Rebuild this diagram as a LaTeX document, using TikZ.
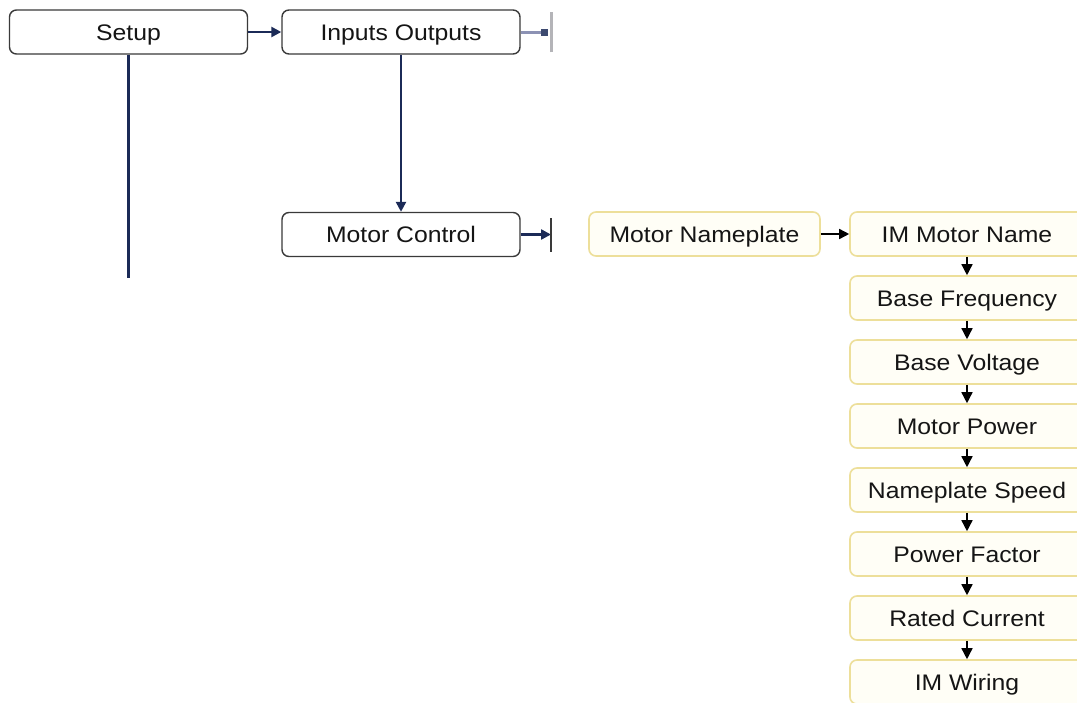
\documentclass[tikz,border=0pt]{standalone}
\usepackage{fontspec}
\setmainfont{Liberation Sans}[FakeStretch=1.1]
\usetikzlibrary{arrows.meta}
\definecolor{navy}{HTML}{1B2A57}
\definecolor{boxline}{HTML}{3A3A3A}
\definecolor{ylw}{HTML}{EDDF9A}
\definecolor{cream}{HTML}{FFFEF6}
\definecolor{txt}{HTML}{151515}
\definecolor{fadeline}{HTML}{8C92B4}
\definecolor{fadebar}{HTML}{B4B4B8}
\tikzset{
  lbl/.style={inner sep=0pt, text=txt, text height=16pt, text depth=0pt,
    font=\fontsize{22.5}{24}\selectfont},
  graybox/.style={lbl, draw=boxline, line width=1.4pt, rounded corners=7pt, fill=white,
    minimum width=238pt, minimum height=44pt},
  ylwbox/.style={lbl, draw=ylw, line width=1.6pt, rounded corners=7pt, fill=cream,
    minimum height=44pt},
  colbox/.style={ylwbox, minimum width=234pt},
  navyarrow/.style={draw=navy, line width=2.4pt, -{Triangle[length=10pt,width=10pt]}},
  navyline/.style={draw=navy, line width=2.6pt},
  colarrow/.style={draw=black, line width=1.5pt, -{Triangle[length=11pt,width=11pt]}},
  bararrow/.style={draw=black, line width=1.6pt, -{Triangle[length=10pt,width=10pt]}},
  barline/.style={draw=boxline, line width=1.4pt},
}
\begin{document}
\begin{tikzpicture}[x=1pt,y=-1pt]
\useasboundingbox (0,0) rectangle (1077,702);
\clip (0,0) rectangle (1077,702);
\fill[white] (0,0) rectangle (1077,702);
% left column boxes
\node[graybox] (setup) at (128.5,32) {Setup};
\node[graybox] (io) at (401,32) {Inputs Outputs};
\node[graybox] (mc) at (401,234.5) {Motor Control};
% yellow boxes
\node[ylwbox, minimum width=231pt] (mnp) at (704.5,234) {Motor Nameplate};
\node[colbox] (c1) at (967,234) {IM Motor Name};
\node[colbox] (c2) at (967,298) {Base Frequency};
\node[colbox] (c3) at (967,362) {Base Voltage};
\node[colbox] (c4) at (967,426) {Motor Power};
\node[colbox] (c5) at (967,490) {Nameplate Speed};
\node[colbox] (c6) at (967,554) {Power Factor};
\node[colbox] (c7) at (967,618) {Rated Current};
\node[colbox] (c8) at (967,682) {IM Wiring};
% coordinates for free ends
\coordinate (setupend) at (128.5,278);
\coordinate (iobar) at (551,32);
\coordinate (mcbar) at (551,234.5);
% connectors
\draw[navyarrow] (setup) -- (io);
\draw[navyline] (setup.south) -- (setupend);
\draw[navyarrow] (io) -- (mc);
\draw[draw=fadeline, line width=3pt] (io.east) -- ([xshift=-4pt]iobar);
\fill[navy!85] ([xshift=-10pt,yshift=-3.5pt]iobar) rectangle ([xshift=-3pt,yshift=3.5pt]iobar);
\draw[draw=fadebar, line width=3pt] ([yshift=-20pt]iobar) -- ([yshift=20pt]iobar);
\draw[navyarrow] (mc.east) -- (mcbar);
\draw[barline] ([yshift=-17pt]mcbar) -- ([yshift=17pt]mcbar);
\draw[bararrow] (mnp) -- (c1);
\foreach \a/\b in {c1/c2,c2/c3,c3/c4,c4/c5,c5/c6,c6/c7,c7/c8}
  \draw[colarrow] (\a) -- (\b);
\end{tikzpicture}
\end{document}
